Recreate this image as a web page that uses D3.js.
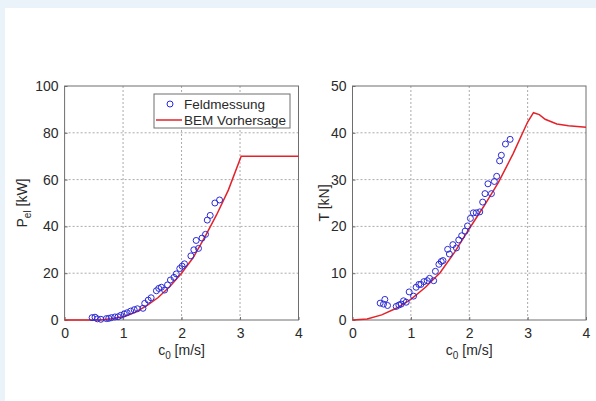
<!DOCTYPE html>
<html>
<head>
<meta charset="utf-8">
<script src="https://cdn.jsdelivr.net/npm/d3@7"></script>
<style>
  body { margin: 0; }
  svg { display: block; font-family: "Liberation Sans", Arial, sans-serif; }
</style>
</head>
<body>
<script>
// Feldmessung, elektrische Leistung
var measPowerC = [0.47, 0.52, 0.56, 0.62, 0.715, 0.755, 0.80, 0.86, 0.915, 0.96, 1.02, 1.07, 1.13, 1.19, 1.245, 1.34,
  1.37, 1.43, 1.48, 1.57, 1.61, 1.655, 1.71, 1.76, 1.81, 1.87, 1.91, 1.97, 2.01, 2.05, 2.16, 2.21, 2.25, 2.29,
  2.35, 2.41, 2.44, 2.49, 2.57, 2.65];
var measPower = [1.0, 1.2, 0.5, 0.3, 0.6, 0.7, 1.0, 1.3, 1.4, 2.0, 2.6, 3.1, 3.8, 4.4, 4.8, 5.0,
  7.1, 8.5, 9.5, 12.5, 13.5, 14.0, 12.8, 15.0, 17.1, 18.2, 19.7, 22.0, 23.0, 24.0, 27.4, 30.0, 34.0, 30.6,
  35.0, 36.6, 42.7, 44.7, 50.0, 51.3];

// BEM Vorhersage, Leistung
var bemPowerC = [0, 0.6, 0.8, 1.0, 1.2, 1.4, 1.6, 1.8, 2.0, 2.2, 2.4, 2.6, 2.8, 3.02, 4];
var bemPower = [0, 0, 0.5, 1.4, 3.2, 6.0, 9.6, 14.3, 20.0, 26.7, 35.5, 45.0, 55.5, 70, 70];

// Feldmessung, Schub
var measThrustC = [0.474, 0.554, 0.531, 0.60, 0.749, 0.794, 0.834, 0.874, 0.92, 0.971, 1.046, 1.09, 1.137, 1.171,
  1.223, 1.28, 1.32, 1.39, 1.42, 1.48, 1.52, 1.55, 1.63, 1.66, 1.72, 1.78, 1.82, 1.87, 1.93, 1.97, 2.02, 2.07,
  2.12, 2.18, 2.23, 2.27, 2.32, 2.38, 2.43, 2.47, 2.52, 2.55, 2.62, 2.70];
var measThrust = [3.6, 4.4, 3.4, 3.1, 2.9, 3.2, 3.4, 4.1, 3.8, 6.0, 5.1, 7.0, 7.6, 7.6,
  8.2, 8.4, 8.9, 8.4, 10.4, 11.9, 12.5, 12.7, 15.1, 14.1, 16.1, 15.4, 17.1, 18.0, 19.0, 20.1, 21.7, 22.9,
  22.9, 23.1, 25.2, 27.0, 29.1, 27.0, 29.6, 30.7, 34.0, 35.2, 37.6, 38.6];

// BEM Vorhersage, Schub
var bemThrustC = [0, 0.25, 0.5, 0.75, 1, 1.25, 1.5, 1.75, 2, 2.25, 2.5, 2.75, 3, 3.1, 3.2, 3.3, 3.5, 3.7, 4];
var bemThrust = [0, 0.2, 1.1, 2.5, 4.4, 7.0, 10.1, 14.5, 19.5, 24.3, 29.4, 35.5, 42.3, 44.3, 43.9, 42.9, 41.9, 41.5, 41.2];

var xTicks = [0, 1, 2, 3, 4];
var powerTicks = [0, 20, 40, 60, 80, 100];
var thrustTicks = [0, 10, 20, 30, 40, 50];

var W = 596, H = 401;
var svg = d3.select("body").append("svg").attr("width", W).attr("height", H);

svg.append("rect").attr("width", W).attr("height", H).attr("fill", "#eaf2fa");
svg.append("rect").attr("x", 5).attr("y", 8).attr("width", W - 5).attr("height", H - 8).attr("fill", "#fff");

var blue = "#2b2bd6", red = "#e3222a", axisCol = "#6e6e6e", textCol = "#2a2a2a";
var fs = "14px";

function panel(opt) {
  var x = d3.scaleLinear().domain([0, 4]).range([opt.left, opt.right]);
  var y = d3.scaleLinear().domain([0, opt.ymax]).range([320, 86]);
  var g = svg.append("g");

  // grid
  g.selectAll(".gx").data(xTicks.slice(1, -1)).enter().append("line")
    .attr("x1", function(d) { return x(d); }).attr("x2", function(d) { return x(d); })
    .attr("y1", y(0)).attr("y2", y(opt.ymax))
    .attr("stroke", "#aaa").attr("stroke-dasharray", "2,2");
  g.selectAll(".gy").data(opt.yTicks.slice(1, -1)).enter().append("line")
    .attr("y1", function(d) { return y(d); }).attr("y2", function(d) { return y(d); })
    .attr("x1", x(0)).attr("x2", x(4))
    .attr("stroke", "#aaa").attr("stroke-dasharray", "2,2");

  // axes
  var ax = g.append("g").attr("transform", "translate(0," + y(0) + ")")
    .call(d3.axisBottom(x).tickValues(xTicks).tickSize(-3).tickPadding(8).tickFormat(d3.format("d")));
  var ay = g.append("g").attr("transform", "translate(" + x(0) + ",0)")
    .call(d3.axisLeft(y).tickValues(opt.yTicks).tickSize(-3).tickPadding(6).tickFormat(d3.format("d")));
  [ax, ay].forEach(function(a) {
    a.select(".domain").remove();
    a.selectAll(".tick line").attr("stroke", axisCol);
    a.selectAll(".tick text").attr("fill", textCol).style("font-size", fs);
  });

  // box
  g.append("rect").attr("x", x(0)).attr("y", y(opt.ymax))
    .attr("width", x(4) - x(0)).attr("height", y(0) - y(opt.ymax))
    .attr("fill", "none").attr("stroke", axisCol).attr("stroke-width", 1);

  // model line
  var line = d3.line().x(function(d) { return x(d[0]); }).y(function(d) { return y(d[1]); });
  g.append("path").datum(d3.zip(opt.lineX, opt.lineY))
    .attr("d", line).attr("fill", "none").attr("stroke", red).attr("stroke-width", 1.5);

  // measurements
  g.selectAll(".pt").data(d3.zip(opt.ptX, opt.ptY)).enter().append("circle")
    .attr("cx", function(d) { return x(d[0]); }).attr("cy", function(d) { return y(d[1]); })
    .attr("r", 3).attr("fill", "none").attr("stroke", blue).attr("stroke-width", 1);

  // x label
  var xl = g.append("text").attr("x", (x(0) + x(4)) / 2).attr("y", 355)
    .attr("text-anchor", "middle").attr("fill", textCol).style("font-size", fs);
  xl.append("tspan").text("c");
  xl.append("tspan").attr("dy", 4).style("font-size", "10px").text("0");
  xl.append("tspan").attr("dy", -4).text(" [m/s]");

  // y label
  var yl = g.append("text").attr("transform", "translate(" + opt.ylabX + ",203) rotate(-90)")
    .attr("text-anchor", "middle").attr("fill", textCol).style("font-size", fs);
  yl.append("tspan").text(opt.ylab[0]);
  if (opt.ylab[1]) {
    yl.append("tspan").attr("dy", 4).style("font-size", "10px").text(opt.ylab[1]);
    yl.append("tspan").attr("dy", -4).text(opt.ylab[2]);
  }
  return g;
}

panel({ left: 64.6, right: 298.5, ymax: 100, yTicks: powerTicks, lineX: bemPowerC, lineY: bemPower,
  ptX: measPowerC, ptY: measPower, ylabX: 27, ylab: ["P", "el", " [kW]"] });
panel({ left: 352.5, right: 586, ymax: 50, yTicks: thrustTicks, lineX: bemThrustC, lineY: bemThrust,
  ptX: measThrustC, ptY: measThrust, ylabX: 329, ylab: ["T [kN]"] });

// legend
var lg = svg.append("g");
lg.append("rect").attr("x", 154).attr("y", 94).attr("width", 136).attr("height", 34)
  .attr("fill", "#fff").attr("stroke", axisCol);
lg.append("circle").attr("cx", 170).attr("cy", 104).attr("r", 3)
  .attr("fill", "none").attr("stroke", blue);
lg.append("line").attr("x1", 156).attr("x2", 182).attr("y1", 120).attr("y2", 120)
  .attr("stroke", red).attr("stroke-width", 1.5);
lg.append("text").attr("x", 184).attr("y", 109).attr("fill", textCol).style("font-size", "13.5px").text("Feldmessung");
lg.append("text").attr("x", 184).attr("y", 125).attr("fill", textCol).style("font-size", "13.5px").text("BEM Vorhersage");
</script>
</body>
</html>
